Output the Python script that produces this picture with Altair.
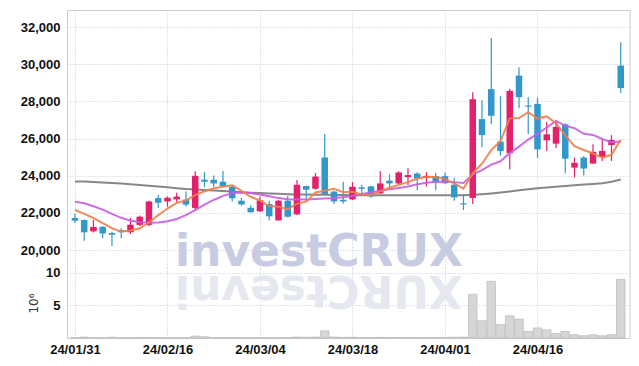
import altair as alt
import pandas as pd

# ---------------- data ----------------
dates = ["24/01/31", "24/02/01", "24/02/02", "24/02/05", "24/02/06", "24/02/07", "24/02/08", "24/02/13",
         "24/02/14", "24/02/15", "24/02/16", "24/02/19", "24/02/20", "24/02/21", "24/02/22", "24/02/23",
         "24/02/26", "24/02/27", "24/02/28", "24/02/29", "24/03/04", "24/03/05", "24/03/06", "24/03/07",
         "24/03/08", "24/03/11", "24/03/12", "24/03/13", "24/03/14", "24/03/15", "24/03/18", "24/03/19",
         "24/03/20", "24/03/21", "24/03/22", "24/03/25", "24/03/26", "24/03/27", "24/03/28", "24/03/29",
         "24/04/01", "24/04/02", "24/04/03", "24/04/04", "24/04/05", "24/04/08", "24/04/09", "24/04/11",
         "24/04/12", "24/04/15", "24/04/16", "24/04/17", "24/04/18", "24/04/19", "24/04/22", "24/04/23",
         "24/04/24", "24/04/25", "24/04/26", "24/04/29"]

opens = [21730, 21620, 21010, 21250, 20920, 21070, 20960, 21360, 21360, 22800,
         22620, 22730, 22720, 22270, 23790, 23790, 23680, 23420, 22660, 22280,
         22090, 22480, 21600, 22660, 21925, 23450, 23300, 24980, 23150, 22710,
         22730, 23380, 23430, 23050, 23740, 23590, 23930, 24120, 23890, 23990,
         23980, 23520, 22520, 22810, 27050, 28660, 25840, 25220, 29390, 27780,
         27870, 25910, 25730, 26770, 24440, 24980, 24660, 25020, 25650, 29930]

highs = [21950, 21650, 21620, 21300, 20990, 21180, 21730, 21870, 22660, 22970,
         22890, 23090, 23150, 24240, 24210, 24010, 24260, 23470, 22810, 22410,
         22880, 22660, 22700, 22920, 23780, 23460, 24150, 26250, 23200, 23680,
         23660, 23520, 23470, 24240, 24080, 24240, 24410, 24190, 24200, 24150,
         24180, 23890, 23020, 28500, 28070, 31420, 28290, 28690, 29840, 28230,
         28210, 26910, 26910, 26830, 24980, 25070, 25700, 25970, 26190, 31180]

lows = [21460, 20510, 20950, 20640, 20230, 20640, 20870, 21300, 21280, 22270,
        22340, 22520, 22350, 22120, 23400, 23380, 23380, 22620, 22390, 22020,
        22050, 21590, 21590, 21760, 21890, 22660, 23250, 23000, 22480, 22490,
        22700, 22930, 22810, 23040, 23320, 23560, 23500, 23220, 23420, 23220,
        23560, 22660, 22160, 22480, 25530, 26780, 25080, 24350, 27640, 26250,
        24950, 25340, 25490, 24140, 23910, 24010, 24650, 24800, 24800, 28450]

closes = [21590, 20960, 21250, 20900, 20830, 20960, 21370, 21800, 22620, 22550,
          22820, 22880, 22450, 24000, 23680, 23590, 23420, 22790, 22460, 22040,
          22680, 21820, 22660, 21800, 23520, 23250, 23960, 23020, 22620, 22620,
          23410, 23300, 22890, 23590, 23590, 24180, 24040, 23850, 24000, 23640,
          23600, 22840, 22460, 28120, 26190, 27230, 25330, 28570, 28230, 27720,
          25420, 26230, 26630, 24920, 24700, 24390, 25290, 25340, 25930, 28720]

ma5 = [22160, 21950, 21730, 21460, 21180, 21000, 21060, 21180, 21500, 21880,
       22240, 22540, 22680, 22960, 23170, 23320, 23430, 23490, 23190, 22870,
       22680, 22370, 22330, 22200, 22500, 22610, 23100, 23200, 23300, 23120,
       23140, 23000, 22970, 23160, 23360, 23510, 23660, 23850, 23930, 23940,
       23830, 23590, 23310, 24140, 24650, 25380, 25870, 27090, 27110, 27420,
       27080, 27200, 26830, 26170, 25590, 25390, 25200, 24980, 25130, 25940]

ma20 = [22600, 22520, 22360, 22180, 21950, 21740, 21590, 21500, 21470, 21490,
        21560, 21680, 21880, 22150, 22450, 22700, 22920, 23060, 23100, 23070,
        22990, 22900, 22800, 22740, 22720, 22720, 22750, 22780, 22800, 22840,
        22930, 23020, 23100, 23200, 23280, 23350, 23430, 23540, 23630, 23680,
        23690, 23660, 23610, 24070, 24300, 24600, 24780, 25220, 25570, 25950,
        26250, 26600, 26950, 26700, 26560, 26260, 26200, 25980, 25800, 25850]

ma60 = [23700, 23690, 23670, 23640, 23610, 23580, 23540, 23510, 23470, 23420,
        23380, 23330, 23290, 23260, 23230, 23210, 23180, 23150, 23120, 23090,
        23070, 23050, 23030, 23010, 23000, 22990, 22980, 22975, 22970, 22965,
        22960, 22958, 22956, 22955, 22954, 22953, 22952, 22951, 22950, 22950,
        22950, 22950, 22960, 22980, 23010, 23050, 23100, 23160, 23220, 23280,
        23330, 23370, 23410, 23450, 23490, 23530, 23560, 23600, 23680, 23800]

volumes = [0.05, 0.15, 0.05, 0.05, 0.12, 0.04, 0.05, 0.06, 0.08, 0.05,
           0.04, 0.04, 0.05, 0.30, 0.20, 0.06, 0.05, 0.06, 0.04, 0.04,
           0.05, 0.05, 0.05, 0.06, 0.15, 0.12, 0.15, 1.10, 0.15, 0.10,
           0.12, 0.08, 0.08, 0.10, 0.08, 0.10, 0.08, 0.06, 0.05, 0.08,
           0.10, 0.12, 0.15, 6.70, 2.65, 8.70, 2.05, 3.40, 2.90, 1.00,
           1.55, 1.25, 0.70, 1.00, 0.50, 0.35, 0.50, 0.35, 0.50, 9.00]

price_ticks = [20000, 22000, 24000, 26000, 28000, 30000, 32000]
volume_ticks = [5, 10]
date_tick_index = [0, 10, 20, 30, 40, 50]

watermark = "investCRUX"

# ---------------- table ----------------
df = pd.DataFrame({
    "i": list(range(len(dates))), "date": dates,
    "open": opens, "high": highs, "low": lows, "close": closes,
    "ma5": ma5, "ma20": ma20, "ma60": ma60, "vol": volumes,
})
df["dir"] = ["up" if c >= o else "down" for o, c in zip(opens, closes)]
one = pd.DataFrame({"k": [0]})

# ---------------- styling ----------------
W, H1, H2 = 563, 258, 70
XDOM = [-0.32, 59.46]
FONT = "Liberation Sans"
FS = 13
GRID = dict(grid=True, gridColor="#c3c7da", gridDash=[1, 2], gridWidth=1)
RED, BLUE = "#e2206b", "#3298cc"
label_expr = "[" + ",".join(f"'{d}'" for d in dates) + "][datum.value]"

xscale = alt.Scale(domain=XDOM, nice=False, zero=False)
x_top = alt.X("i:Q", scale=xscale,
              axis=alt.Axis(orient="top", values=date_tick_index, labels=False, ticks=False,
                            domain=True, domainColor="#cccccc", title=None, **GRID))
yscale = alt.Scale(domain=[19040, 32920], nice=False, zero=False)
yaxis = alt.Axis(values=price_ticks, labelExpr="format(datum.value, ',')", title=None,
                 ticks=False, labelPadding=7, domainColor="#cccccc", **GRID)
color = alt.Color("dir:N", scale=alt.Scale(domain=["up", "down"], range=[RED, BLUE]), legend=None)

base = alt.Chart(df)

wm = alt.Chart(one).mark_text(text=watermark, font="DejaVu Sans", fontWeight="bold", fontSize=44,
                              color="#c7cce3", align="left", baseline="alphabetic").encode(
    x=alt.value(108), y=alt.value(256.4))

wicks = base.mark_rule(strokeWidth=1.2).encode(
    x=x_top, y=alt.Y("low:Q", scale=yscale, axis=yaxis), y2="high:Q", color=color)
bodies = base.mark_bar(size=6.5).encode(
    x=x_top, y=alt.Y("open:Q", scale=yscale, axis=yaxis), y2="close:Q", color=color)

def ma_line(field, col):
    return base.mark_line(color=col, strokeWidth=2, opacity=0.9).encode(
        x=x_top, y=alt.Y(f"{field}:Q", scale=yscale, axis=yaxis))

right1 = alt.Chart(one).mark_rule(color="#cccccc").encode(
    x=alt.value(W), y=alt.value(0), y2=alt.value(H1))

price = alt.layer(wm, ma_line("ma60", "#7a7a7a"), wicks, bodies,
                  ma_line("ma20", "#c95ce6"), ma_line("ma5", "#ef7e48"), right1).properties(
    width=W, height=H1)

# reflection of the watermark (each glyph turned over in place)
adv = {"i": .343, "n": .712, "v": .652, "e": .678, "s": .595, "t": .478,
       "C": .734, "R": .770, "U": .812, "X": .740}
refl = []
cum = 0.0
for ch in watermark:
    w = adv[ch]
    cx = 108 + 44 * (cum + w / 2)
    cum += w
    refl.append(alt.Chart(one).mark_text(text=ch, angle=180, font="DejaVu Sans", fontWeight="bold",
                                         fontSize=44, color="#e6e8f0", align="center",
                                         baseline="alphabetic").encode(
        x=alt.value(cx), y=alt.value(7.5)))

x_bot = alt.X("i:Q", scale=xscale,
              axis=alt.Axis(values=date_tick_index, labelExpr=label_expr, ticks=False,
                            domainColor="#cccccc", labelPadding=5, title=None, **GRID))
vol_bars = base.mark_bar(size=8.6, color="#d6d6d6", stroke="#b3b3b3", strokeWidth=0.6).encode(
    x=x_bot,
    y=alt.Y("vol:Q", scale=alt.Scale(domain=[0, 10.74], nice=False),
            axis=alt.Axis(values=volume_ticks, title="10⁶", titleFont="DejaVu Sans",
                          titleFontWeight="normal", titleFontSize=12, titleAngle=-90,
                          titleX=-34, titleY=35, titleAlign="center", titleBaseline="middle",
                          titleColor="#333333", ticks=False, labelPadding=7,
                          domainColor="#cccccc", **GRID)))
right2 = alt.Chart(one).mark_rule(color="#cccccc").encode(
    x=alt.value(W), y=alt.value(0), y2=alt.value(H2))

volume = alt.layer(*refl, vol_bars, right2).properties(width=W, height=H2)

chart = alt.vconcat(price, volume, spacing=0, bounds="flush").properties(
    padding={"left": 12, "top": 1, "right": 0, "bottom": 0}
).configure_view(stroke=None).configure_axis(
    labelFont=FONT, labelFontSize=FS, labelFontWeight="bold", labelColor="#111111"
)

chart.save("out.html", embed_options={"renderer": "svg", "actions": False})
